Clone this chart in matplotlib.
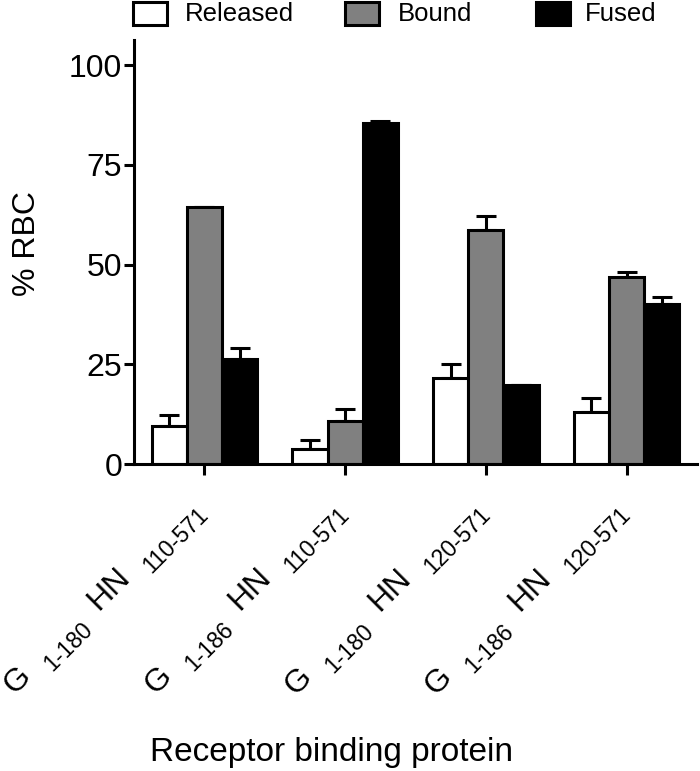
import numpy as np
import matplotlib
matplotlib.use("Agg")
import matplotlib.pyplot as plt
from matplotlib.patches import Rectangle

plt.rcParams['font.family'] = ['Liberation Sans', 'DejaVu Sans']

# data
groups_g = ["1-180", "1-186", "1-180", "1-186"]
groups_hn = ["110-571", "110-571", "120-571", "120-571"]
series = ["Released", "Bound", "Fused"]
released = [9.5, 3.8, 21.6, 13.1]
released_err = [2.7, 2.2, 3.4, 3.5]
bound = [64.5, 10.8, 58.7, 46.8]
bound_err = [0.0, 3.0, 3.4, 1.3]
fused = [26.2, 85.5, 19.9, 40.0]
fused_err = [2.9, 0.6, 0.0, 1.8]

colors = ["white", "#808080", "black"]
vals = [released, bound, fused]
errs = [released_err, bound_err, fused_err]

W, H = 700, 771
fig = plt.figure(figsize=(W / 100, H / 100), dpi=100)
ax = fig.add_axes([134 / W, 1 - 464 / H, 563 / W, 424 / H])

x = np.arange(len(groups_g))
w = 0.25
for k in range(3):
    e = np.array(errs[k])
    ax.bar(x + (k - 1) * w, vals[k], w, color=colors[k], edgecolor="black",
           linewidth=2.2, zorder=2)
    ax.errorbar(x + (k - 1) * w, vals[k], yerr=[np.zeros_like(e), e], fmt="none",
                ecolor="black", elinewidth=2.2, capsize=7, capthick=2.2, zorder=1)

ax.set_xlim(-0.5, 3.5)
ax.set_ylim(0, 106.3)
ax.set_yticks([0, 25, 50, 75, 100])
ax.set_xticks(x)
ax.set_xticklabels([])
for s in ["top", "right"]:
    ax.spines[s].set_visible(False)
for s in ["left", "bottom"]:
    ax.spines[s].set_linewidth(2.2)
ax.tick_params(axis="y", labelsize=23, width=2.2, length=7, pad=1.5)
ax.tick_params(axis="x", width=2.2, length=8)

fig.text(27 / W, 1 - 243 / H, "% RBC", fontsize=23, rotation=90, ha="center", va="center")
fig.text(332 / W, 1 - 761 / H, "Receptor binding protein", fontsize=24,
         ha="center", va="baseline")

# rotated tick labels, big names with smaller residue ranges
fig.canvas.draw()
r = fig.canvas.get_renderer()
big, small = 23, 16.5

def width_pt(s, size):
    t = fig.text(0, 0, s, fontsize=size)
    wpx = t.get_window_extent(r).width
    t.remove()
    return wpx * 72 / fig.dpi

u = np.array([1.0, 1.0]) / np.sqrt(2)
v = np.array([1.0, -1.0]) / np.sqrt(2)
gap = 12.6
sub = 8.0
line_end = np.array([3.8, -37.0]) - sub * v
for i in range(len(groups_g)):
    pieces = [("G", big, 0), (groups_g[i], small, sub), ("HN", big, 0), (groups_hn[i], small, sub)]
    pos = 0.0
    for txt, size, shift in reversed(pieces):
        p = line_end - pos * u + shift * v
        ax.annotate(txt, xy=(i, 0), xycoords=("data", "axes fraction"),
                    xytext=tuple(p), textcoords="offset points", fontsize=size,
                    rotation=45, rotation_mode="anchor", ha="right", va="baseline",
                    annotation_clip=False)
        pos += width_pt(txt, size) + gap

# legend along the top
box_x = [133, 345, 536]
text_x = [185, 398, 585]
for k in range(3):
    fig.patches.append(Rectangle((box_x[k] / W, 1 - 25 / H), 34 / W, 23 / H,
                                 transform=fig.transFigure, facecolor=colors[k],
                                 edgecolor="black", linewidth=2.2))
    fig.text(text_x[k] / W, 1 - 14 / H, series[k], fontsize=18.5, ha="left", va="center")

fig.savefig("out.png", dpi=100)
